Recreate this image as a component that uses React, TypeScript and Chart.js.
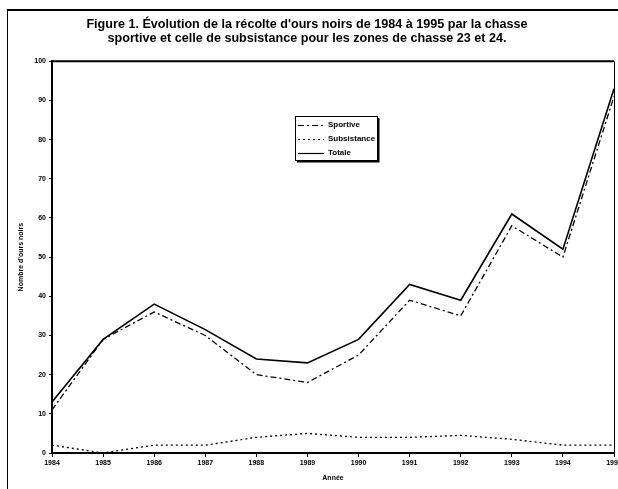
import React, { useEffect, useRef } from "react";
import { Chart, registerables } from "chart.js";

Chart.register(...registerables);

const years = ["1984", "1985", "1986", "1987", "1988", "1989", "1990", "1991", "1992", "1993", "1994", "1995"];
const sportive = [11, 29, 36, 30, 20, 18, 25, 39, 35, 58, 50, 91];
const subsistance = [2, 0, 2, 2, 4, 5, 4, 4, 4.5, 3.5, 2, 2];
const totale = [13, 29, 38, 31.5, 24, 23, 29, 43, 39, 61, 52, 93];
const titleLines = [
  "Figure 1. Évolution de la récolte d'ours noirs de 1984 à 1995 par la chasse",
  "sportive et celle de subsistance pour les zones de chasse 23 et 24.",
];
const legendLabels = ["Sportive", "Subsistance", "Totale"];

const FONT = "'Liberation Sans Narrow', 'Arial Narrow', 'Liberation Sans', sans-serif";

const framePlugin = {
  id: "frame",
  afterDraw(chart: any) {
    const { ctx, chartArea } = chart;
    ctx.save();
    ctx.strokeStyle = "#000";
    ctx.lineWidth = 2;
    ctx.beginPath();
    ctx.moveTo(chartArea.left, chartArea.top);
    ctx.lineTo(chartArea.right, chartArea.top);
    ctx.stroke();
    ctx.lineWidth = 1;
    ctx.beginPath();
    ctx.moveTo(chartArea.right + 0.5, chartArea.top);
    ctx.lineTo(chartArea.right + 0.5, chartArea.bottom);
    ctx.stroke();

    // legend box
    const bx = 295, by = 116, bw = 82, bh = 44;
    ctx.fillStyle = "#fff";
    ctx.fillRect(bx, by, bw, bh);
    ctx.lineWidth = 1;
    ctx.strokeRect(bx + 0.5, by + 0.5, bw, bh);
    ctx.lineWidth = 2;
    ctx.beginPath();
    ctx.moveTo(bx + 2, by + bh + 1.5);
    ctx.lineTo(bx + bw + 1.5, by + bh + 1.5);
    ctx.lineTo(bx + bw + 1.5, by + 2);
    ctx.stroke();

    const ds = chart.data.datasets;
    const rows = [125, 139, 153];
    ctx.font = `bold 8px ${FONT}`;
    ctx.textBaseline = "middle";
    ctx.textAlign = "left";
    for (let i = 0; i < ds.length; i++) {
      const y = rows[i];
      ctx.lineWidth = 1.2;
      ctx.setLineDash(ds[i].borderDash || []);
      ctx.beginPath();
      ctx.moveTo(298, y + 0.5);
      ctx.lineTo(324, y + 0.5);
      ctx.stroke();
      ctx.setLineDash([]);
      ctx.fillStyle = "#000";
      ctx.fillText(ds[i].label, 328, y);
    }
    ctx.restore();
  },
};

export default function App() {
  const ref = useRef<HTMLCanvasElement>(null);
  useEffect(() => {
    const chart = new Chart(ref.current!, {
      type: "line",
      data: {
        labels: years,
        datasets: [
          { label: legendLabels[0], data: sportive, borderColor: "#000", borderWidth: 1.3, borderDash: [6, 3, 2, 3], pointRadius: 0, tension: 0 },
          { label: legendLabels[1], data: subsistance, borderColor: "#000", borderWidth: 1.3, borderDash: [2, 3], pointRadius: 0, tension: 0 },
          { label: legendLabels[2], data: totale, borderColor: "#000", borderWidth: 1.6, pointRadius: 0, tension: 0 },
        ],
      },
      options: {
        animation: false,
        responsive: false,
        layout: { padding: { top: 17, left: 0, right: 4, bottom: 0 } },
        plugins: {
          legend: { display: false },
          tooltip: { enabled: false },
          title: {
            display: true,
            text: titleLines,
            color: "#000",
            font: { family: FONT, size: 12.6, weight: "bold", lineHeight: 1.12 },
            padding: { top: 0, bottom: 16 },
          },
        },
        scales: {
          x: {
            type: "category",
            offset: false,
            grid: { drawOnChartArea: false, drawTicks: true, tickLength: 4, color: "#000" },
            border: { color: "#000", width: 2 },
            ticks: { color: "#000", font: { family: FONT, size: 7, weight: "bold" }, maxRotation: 0, autoSkip: false, padding: 2 },
            title: { display: true, text: "Année", color: "#000", font: { family: FONT, size: 7, weight: "bold" }, padding: { top: 0, bottom: 7 } },
            afterFit: (s: any) => { s.height = 36; s.paddingLeft = 0; s.paddingRight = 0; },
          },
          y: {
            min: 0,
            max: 100,
            grid: { drawOnChartArea: false, drawTicks: true, tickLength: 3, color: "#000" },
            border: { color: "#000", width: 2 },
            ticks: { stepSize: 10, color: "#000", font: { family: FONT, size: 7, weight: "bold" }, padding: 3 },
            title: { display: true, text: "Nombre d'ours noirs", color: "#000", font: { family: FONT, size: 7, weight: "bold" }, padding: { top: 17, bottom: 0 } },
            afterFit: (s: any) => { s.width = 52; s.paddingTop = 0; s.paddingBottom = 0; },
          },
        },
      },
      plugins: [framePlugin],
    } as any);
    return () => chart.destroy();
  }, []);
  return (
    <div style={{ position: "fixed", left: 0, top: 0, width: 618, height: 489, background: "#fff" }}>
      <div style={{ position: "absolute", left: 7, top: 9, width: 611, height: 480, borderTop: "2px solid #000", borderLeft: "1px solid #000" }} />
      <canvas ref={ref} width={618} height={489} style={{ position: "absolute", left: 0, top: 0 }} />
    </div>
  );
}
